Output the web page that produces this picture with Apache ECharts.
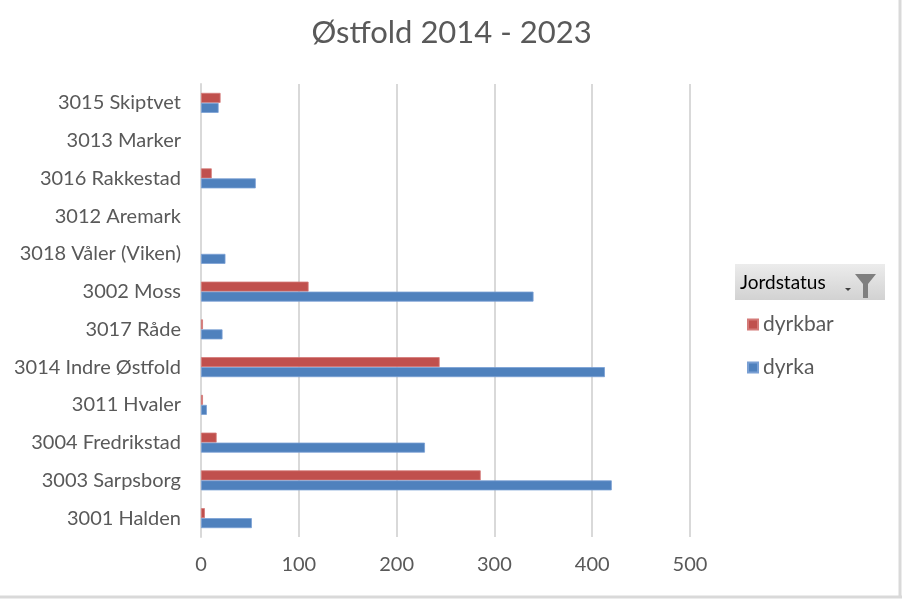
<!DOCTYPE html>
<html>
<head>
<meta charset="utf-8">
<script src="https://cdn.jsdelivr.net/npm/echarts@6/dist/echarts.min.js"></script>
<style>html,body{margin:0;padding:0;background:#fff;}#c{width:903px;height:599px;}</style>
</head>
<body>
<div id="c"></div>
<script>
var categories = ['3001 Halden','3003 Sarpsborg','3004 Fredrikstad','3011 Hvaler','3014 Indre Østfold','3017 Råde','3002 Moss','3018 Våler (Viken)','3012 Aremark','3016 Rakkestad','3013 Marker','3015 Skiptvet'];
var dyrka   = [52, 420, 229, 6, 413, 22, 340, 25, null, 56, null, 18];
var dyrkbar = [4, 286, 16, 2, 244, 2, 110, null, null, 11, null, 20];
var xTicks = [0, 100, 200, 300, 400, 500];
var FONT = 'Lato';

var chart = echarts.init(document.getElementById('c'));
chart.setOption({
  animation: false,
  title: {
    text: 'Østfold 2014 - 2023',
    left: 'center', top: 12,
    textStyle: {fontFamily: FONT, fontSize: 31, fontWeight: 'normal', color: '#595959'}
  },
  grid: {left: 201, right: 213, top: 84, bottom: 62, containLabel: false},
  xAxis: {
    type: 'value', min: xTicks[0], max: xTicks[xTicks.length-1], interval: 100,
    axisLine: {show: false}, axisTick: {show: false},
    axisLabel: {fontFamily: FONT, fontSize: 20, color: '#595959', margin: 18},
    splitLine: {lineStyle: {color: '#d9d9d9', width: 2}}
  },
  yAxis: {
    type: 'category', data: categories,
    axisLine: {show: true, lineStyle: {color: '#d9d9d9', width: 2}},
    axisTick: {show: false},
    axisLabel: {fontFamily: FONT, fontSize: 20, color: '#595959', margin: 20}
  },
  legend: {
    orient: 'vertical', left: 742, top: 309,
    itemWidth: 10, itemHeight: 10, itemGap: 22, icon: 'rect',
    data: ['dyrkbar', 'dyrka'],
    textStyle: {fontFamily: FONT, fontSize: 21, color: '#595959'}
  },
  series: [
    {name: 'dyrkbar', type: 'bar', data: dyrkbar, barWidth: 10, barGap: '0%',
     itemStyle: {color: '#c0504d', borderColor: '#d47a78', borderWidth: 0.8}},
    {name: 'dyrka', type: 'bar', data: dyrka, barWidth: 10, barGap: '0%',
     itemStyle: {color: '#4f81bd', borderColor: '#7aa0d4', borderWidth: 0.8}}
  ],
  graphic: [
    {type: 'rect', shape: {x: 735, y: 264, width: 150, height: 36},
     style: {fill: new echarts.graphic.LinearGradient(0, 0, 0, 1, [{offset: 0, color: '#ececec'}, {offset: 1, color: '#d2d2d2'}])}},
    {type: 'text', x: 740, y: 283,
     style: {text: 'Jordstatus', fontFamily: FONT, fontSize: 19, fill: '#000', textVerticalAlign: 'middle'}},
    {type: 'polygon', shape: {points: [[855, 274], [876, 274], [868, 284], [868, 298], [863, 298], [863, 284]]},
     style: {fill: '#7f7f7f'}},
    {type: 'polygon', shape: {points: [[845, 288], [851, 288], [848, 291]]}, style: {fill: '#404040'}},
    {type: 'line', shape: {x1: 900, y1: 0, x2: 900, y2: 597}, style: {stroke: '#d9d9d9', lineWidth: 3}},
    {type: 'line', shape: {x1: 0, y1: 597, x2: 902, y2: 597}, style: {stroke: '#d9d9d9', lineWidth: 3}}
  ]
});
</script>
</body>
</html>
